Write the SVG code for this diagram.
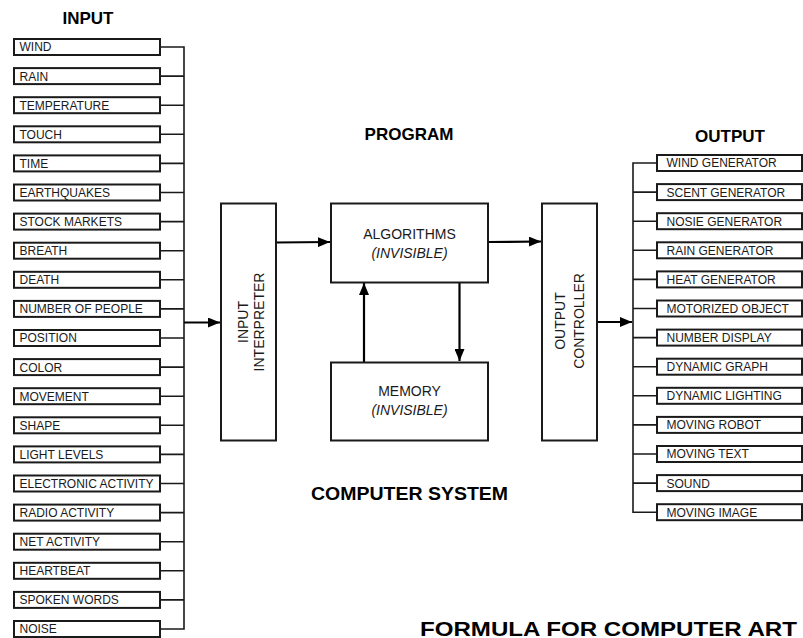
<svg xmlns="http://www.w3.org/2000/svg" width="803" height="638" viewBox="0 0 803 638">
<style>
.b{fill:#fff;stroke:#1a1a1a;stroke-width:2}
.l{font-family:"Liberation Sans",Arial,sans-serif;font-size:12px;fill:#1a1a1a}
.m{font-family:"Liberation Sans",Arial,sans-serif;font-size:14px;fill:#1a1a1a}
.i{font-style:italic}
.h{font-family:"Liberation Sans",Arial,sans-serif;font-size:17px;font-weight:bold;fill:#000}
.c{fill:none;stroke:#1a1a1a;stroke-width:1.6}
.a{fill:none;stroke:#000;stroke-width:2.2}
</style>
<defs>
<marker id="ah" viewBox="0 0 12 10" refX="12" refY="5" markerWidth="12" markerHeight="10" markerUnits="userSpaceOnUse" orient="auto"><path d="M0,0L12,5L0,10z" fill="#000"/></marker>
</defs>
<rect width="803" height="638" fill="#fff"/>
<text class="h" x="88" y="24" text-anchor="middle">INPUT</text>
<text class="h" x="409" y="140" text-anchor="middle">PROGRAM</text>
<text class="h" x="730" y="142" text-anchor="middle">OUTPUT</text>
<text class="h" x="311" y="500" textLength="197" lengthAdjust="spacingAndGlyphs" style="font-size:19px">COMPUTER SYSTEM</text>
<text class="h" x="420" y="635.5" textLength="377" lengthAdjust="spacingAndGlyphs" style="font-size:20px">FORMULA FOR COMPUTER ART</text>

<g id="connectors">
<path class="c" d="M160,47H184M160,76.1H184M160,105.2H184M160,134.3H184M160,163.4H184M160,192.5H184M160,221.6H184M160,250.7H184M160,279.8H184M160,308.9H184M160,338H184M160,367.1H184M160,396.2H184M160,425.3H184M160,454.4H184M160,483.5H184M160,512.6H184M160,541.7H184M160,570.8H184M160,599.9H184M160,629H184M184,46.2V629.8"/>
<path class="c" d="M633,163H657M633,192.1H657M633,221.2H657M633,250.3H657M633,279.4H657M633,308.5H657M633,337.6H657M633,366.7H657M633,395.8H657M633,424.9H657M633,454H657M633,483.1H657M633,512.2H657M633,162.2V513"/>
<line class="a" x1="184" y1="322.5" x2="220" y2="322.5" marker-end="url(#ah)"/>
<line class="a" x1="276" y1="242.5" x2="330" y2="242" marker-end="url(#ah)"/>
<line class="a" x1="488" y1="242" x2="541" y2="241.5" marker-end="url(#ah)"/>
<line class="a" x1="597" y1="322" x2="632" y2="322" marker-end="url(#ah)"/>
<line class="a" x1="364" y1="362" x2="364" y2="283" marker-end="url(#ah)"/>
<line class="a" x1="459.5" y1="283" x2="459.5" y2="361" marker-end="url(#ah)"/>
</g>

<g id="input-interpreter">
<rect class="b" x="221" y="203.5" width="55" height="237"/>
<text class="m" transform="translate(247.5,322) rotate(-90)" text-anchor="middle">INPUT</text>
<text class="m" transform="translate(264,322) rotate(-90)" text-anchor="middle">INTERPRETER</text>
</g>
<g id="algorithms">
<rect class="b" x="331" y="203.5" width="157" height="79"/>
<text class="m" x="409.5" y="239" text-anchor="middle">ALGORITHMS</text>
<text class="m i" x="409.5" y="258" text-anchor="middle">(INVISIBLE)</text>
</g>
<g id="memory">
<rect class="b" x="331" y="362.5" width="157" height="78"/>
<text class="m" x="409.5" y="396" text-anchor="middle">MEMORY</text>
<text class="m i" x="409.5" y="414.5" text-anchor="middle">(INVISIBLE)</text>
</g>
<g id="output-controller">
<rect class="b" x="542" y="203.5" width="55" height="237"/>
<text class="m" transform="translate(565,321) rotate(-90)" text-anchor="middle">OUTPUT</text>
<text class="m" transform="translate(583.5,321) rotate(-90)" text-anchor="middle">CONTROLLER</text>
</g>

<g id="in-wind"><rect class="b" x="14" y="39" width="146" height="16"/><text class="l" x="19.5" y="51.4">WIND</text></g>
<g id="in-rain"><rect class="b" x="14" y="68.1" width="146" height="16"/><text class="l" x="19.5" y="80.5">RAIN</text></g>
<g id="in-temperature"><rect class="b" x="14" y="97.2" width="146" height="16"/><text class="l" x="19.5" y="109.6">TEMPERATURE</text></g>
<g id="in-touch"><rect class="b" x="14" y="126.3" width="146" height="16"/><text class="l" x="19.5" y="138.7">TOUCH</text></g>
<g id="in-time"><rect class="b" x="14" y="155.4" width="146" height="16"/><text class="l" x="19.5" y="167.8">TIME</text></g>
<g id="in-earthquakes"><rect class="b" x="14" y="184.5" width="146" height="16"/><text class="l" x="19.5" y="196.9">EARTHQUAKES</text></g>
<g id="in-stock"><rect class="b" x="14" y="213.6" width="146" height="16"/><text class="l" x="19.5" y="226">STOCK MARKETS</text></g>
<g id="in-breath"><rect class="b" x="14" y="242.7" width="146" height="16"/><text class="l" x="19.5" y="255.1">BREATH</text></g>
<g id="in-death"><rect class="b" x="14" y="271.8" width="146" height="16"/><text class="l" x="19.5" y="284.2">DEATH</text></g>
<g id="in-people"><rect class="b" x="14" y="300.9" width="146" height="16"/><text class="l" x="19.5" y="313.3">NUMBER OF PEOPLE</text></g>
<g id="in-position"><rect class="b" x="14" y="330" width="146" height="16"/><text class="l" x="19.5" y="342.4">POSITION</text></g>
<g id="in-color"><rect class="b" x="14" y="359.1" width="146" height="16"/><text class="l" x="19.5" y="371.5">COLOR</text></g>
<g id="in-movement"><rect class="b" x="14" y="388.2" width="146" height="16"/><text class="l" x="19.5" y="400.6">MOVEMENT</text></g>
<g id="in-shape"><rect class="b" x="14" y="417.3" width="146" height="16"/><text class="l" x="19.5" y="429.7">SHAPE</text></g>
<g id="in-light"><rect class="b" x="14" y="446.4" width="146" height="16"/><text class="l" x="19.5" y="458.8">LIGHT LEVELS</text></g>
<g id="in-electronic"><rect class="b" x="14" y="475.5" width="146" height="16"/><text class="l" x="19.5" y="487.9">ELECTRONIC ACTIVITY</text></g>
<g id="in-radio"><rect class="b" x="14" y="504.6" width="146" height="16"/><text class="l" x="19.5" y="517">RADIO ACTIVITY</text></g>
<g id="in-net"><rect class="b" x="14" y="533.7" width="146" height="16"/><text class="l" x="19.5" y="546.1">NET ACTIVITY</text></g>
<g id="in-heartbeat"><rect class="b" x="14" y="562.8" width="146" height="16"/><text class="l" x="19.5" y="575.2">HEARTBEAT</text></g>
<g id="in-spoken"><rect class="b" x="14" y="591.9" width="146" height="16"/><text class="l" x="19.5" y="604.3">SPOKEN WORDS</text></g>
<g id="in-noise"><rect class="b" x="14" y="621" width="146" height="16"/><text class="l" x="19.5" y="633.4">NOISE</text></g>

<g id="out-wind"><rect class="b" x="657" y="155" width="145" height="16"/><text class="l" x="666.5" y="167.4">WIND GENERATOR</text></g>
<g id="out-scent"><rect class="b" x="657" y="184.1" width="145" height="16"/><text class="l" x="666.5" y="196.5">SCENT GENERATOR</text></g>
<g id="out-nosie"><rect class="b" x="657" y="213.2" width="145" height="16"/><text class="l" x="666.5" y="225.6">NOSIE GENERATOR</text></g>
<g id="out-rain"><rect class="b" x="657" y="242.3" width="145" height="16"/><text class="l" x="666.5" y="254.7">RAIN GENERATOR</text></g>
<g id="out-heat"><rect class="b" x="657" y="271.4" width="145" height="16"/><text class="l" x="666.5" y="283.8">HEAT GENERATOR</text></g>
<g id="out-motorized"><rect class="b" x="657" y="300.5" width="145" height="16"/><text class="l" x="666.5" y="312.9">MOTORIZED OBJECT</text></g>
<g id="out-number"><rect class="b" x="657" y="329.6" width="145" height="16"/><text class="l" x="666.5" y="342">NUMBER DISPLAY</text></g>
<g id="out-graph"><rect class="b" x="657" y="358.7" width="145" height="16"/><text class="l" x="666.5" y="371.1">DYNAMIC GRAPH</text></g>
<g id="out-lighting"><rect class="b" x="657" y="387.8" width="145" height="16"/><text class="l" x="666.5" y="400.2">DYNAMIC LIGHTING</text></g>
<g id="out-robot"><rect class="b" x="657" y="416.9" width="145" height="16"/><text class="l" x="666.5" y="429.3">MOVING ROBOT</text></g>
<g id="out-text"><rect class="b" x="657" y="446" width="145" height="16"/><text class="l" x="666.5" y="458.4">MOVING TEXT</text></g>
<g id="out-sound"><rect class="b" x="657" y="475.1" width="145" height="16"/><text class="l" x="666.5" y="487.5">SOUND</text></g>
<g id="out-image"><rect class="b" x="657" y="504.2" width="145" height="16"/><text class="l" x="666.5" y="516.6">MOVING IMAGE</text></g>
</svg>
